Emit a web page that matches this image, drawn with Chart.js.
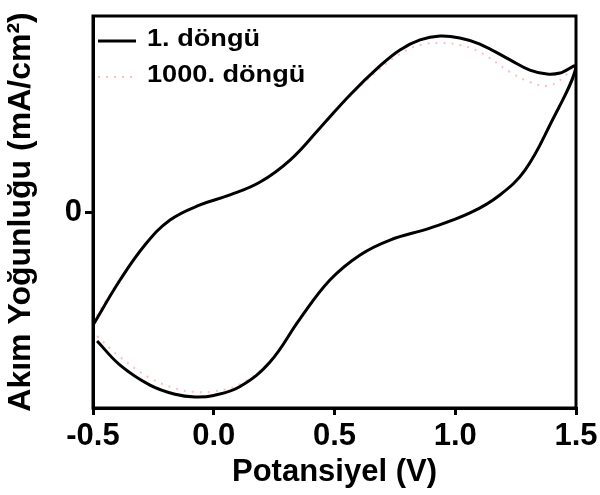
<!DOCTYPE html>
<html>
<head>
<meta charset="utf-8">
<script src="https://cdn.jsdelivr.net/npm/chart.js@4.4.1/dist/chart.umd.min.js"></script>
<style>
    html, body { margin: 0; padding: 0; background: #fff; }
    #wrap { width: 600px; height: 495px; }
</style>
</head>
<body>
<div id="wrap"><canvas id="cvChart" width="600" height="495"></canvas></div>
<script>
// Data (potential in V, current density in arbitrary units, 0 = zero line)
const seriesNames = ['1. döngü', '1000. döngü'];
const xTicks = [-0.5, 0.0, 0.5, 1.0, 1.5];
const yTicks = [0];

// 1st cycle: forward scan then reverse scan
const potential1 = [-0.483, -0.388, -0.264, -0.160, -0.078, 0.0, 0.109, 0.233, 0.357, 0.481, 0.606, 0.730, 0.895, 1.061, 1.185, 1.289, 1.392, 1.5,
    1.434, 1.380, 1.309, 1.227, 1.102, 1.019, 0.937, 0.854, 0.771, 0.688, 0.564, 0.440, 0.316, 0.192, 0.067, -0.057, -0.181, -0.285, -0.388, -0.5];
const current1 = [-0.658, -0.781, -0.883, -0.930, -0.944, -0.936, -0.890, -0.765, -0.545, -0.347, -0.219, -0.143, -0.082, -0.005, 0.087, 0.214, 0.444, 0.740,
    0.709, 0.704, 0.724, 0.776, 0.857, 0.888, 0.898, 0.878, 0.827, 0.745, 0.597, 0.429, 0.265, 0.153, 0.087, 0.036, -0.041, -0.168, -0.347, -0.577];

// 1000th cycle
const potential1000 = [-0.483, -0.388, -0.264, -0.160, -0.078, 0.0, 0.109, 0.233, 0.357, 0.481, 0.606, 0.730, 0.895, 1.061, 1.185, 1.289, 1.392, 1.5,
    1.434, 1.380, 1.309, 1.227, 1.102, 1.019, 0.937, 0.854, 0.771, 0.688, 0.564, 0.440, 0.316, 0.192, 0.067, -0.057, -0.181, -0.285, -0.388, -0.5];
const current1000 = [-0.633, -0.740, -0.847, -0.900, -0.918, -0.915, -0.878, -0.760, -0.545, -0.347, -0.219, -0.143, -0.082, -0.005, 0.087, 0.214, 0.444, 0.740,
    0.673, 0.643, 0.663, 0.714, 0.816, 0.852, 0.862, 0.852, 0.806, 0.730, 0.590, 0.425, 0.262, 0.150, 0.085, 0.034, -0.043, -0.170, -0.340, -0.560];

const FONT = '"Liberation Sans", Arial, sans-serif';

function toPoints(xs, ys) {
    return xs.map((x, i) => ({ x: x, y: ys[i] }));
}

// Frame round the plot and the legend inside it
const framePlugin = {
    id: 'frame',
    afterDraw(chart) {
        const { ctx, chartArea: a } = chart;
        ctx.save();
        ctx.strokeStyle = '#000';
        ctx.lineWidth = 3;
        ctx.strokeRect(a.left, a.top, a.right - a.left, a.bottom - a.top);

        // legend
        const rows = [
            { label: seriesNames[0], color: '#000', dash: [], width: 3, y: 41 },
            { label: seriesNames[1], color: 'rgba(255,130,130,0.5)', dash: [2, 6], width: 2, y: 77 }
        ];
        rows.forEach(r => {
            ctx.beginPath();
            ctx.setLineDash(r.dash);
            ctx.strokeStyle = r.color;
            ctx.lineWidth = r.width;
            ctx.moveTo(a.left + 5, r.y);
            ctx.lineTo(a.left + 43, r.y);
            ctx.stroke();
            ctx.setLineDash([]);
            ctx.save();
            ctx.translate(a.left + 54, r.y - 1);
            ctx.scale(1.18, 1);
            ctx.fillStyle = '#000';
            ctx.font = 'bold 23px ' + FONT;
            ctx.textBaseline = 'middle';
            ctx.fillText(r.label, 0, 0);
            ctx.restore();
        });
        ctx.restore();
    }
};

const ctx = document.getElementById('cvChart').getContext('2d');
new Chart(ctx, {
    type: 'scatter',
    data: {
        datasets: [
            {
                label: seriesNames[0],
                data: toPoints(potential1, current1),
                showLine: true,
                borderColor: '#000',
                borderWidth: 3,
                pointRadius: 0,
                tension: 0.4,
                order: 0
            },
            {
                label: seriesNames[1],
                data: toPoints(potential1000, current1000),
                showLine: true,
                borderColor: 'rgba(255,130,130,0.5)',
                borderWidth: 2,
                borderDash: [2, 6],
                pointRadius: 0,
                tension: 0.4,
                order: 1
            }
        ]
    },
    options: {
        responsive: false,
        animation: false,
        layout: { padding: { top: 16, right: 24, left: 0, bottom: 0 } },
        plugins: {
            legend: { display: false },
            tooltip: { enabled: false }
        },
        scales: {
            x: {
                type: 'linear',
                min: -0.5,
                max: 1.5,
                afterBuildTicks: s => { s.ticks = xTicks.map(v => ({ value: v })); },
                afterFit: s => { s.height = 87; s.paddingLeft = 0; s.paddingRight = 0; },
                border: { display: true, color: '#000', width: 3 },
                grid: { drawOnChartArea: false, drawTicks: true, tickLength: 7, color: '#000', lineWidth: 3 },
                ticks: {
                    color: '#000',
                    padding: 3,
                    maxRotation: 0,
                    font: { family: FONT, size: 31, weight: 'bold' },
                    callback: v => v.toFixed(1)
                },
                title: {
                    display: true,
                    text: 'Potansiyel (V)',
                    color: '#000',
                    padding: { top: 0, bottom: 4 },
                    font: { family: FONT, size: 31, weight: 'bold' }
                }
            },
            y: {
                type: 'linear',
                min: -1,
                max: 1,
                afterBuildTicks: s => { s.ticks = yTicks.map(v => ({ value: v })); },
                afterFit: s => { s.width = 93; s.paddingTop = 0; s.paddingBottom = 0; },
                border: { display: true, color: '#000', width: 3 },
                grid: { drawOnChartArea: false, drawTicks: true, tickLength: 8, color: '#000', lineWidth: 3 },
                ticks: {
                    color: '#000',
                    padding: 3,
                    font: { family: FONT, size: 31, weight: 'bold' },
                    callback: v => v.toFixed(0)
                },
                title: {
                    display: true,
                    text: 'Akım Yoğunluğu (mA/cm²)',
                    color: '#000',
                    padding: { top: 2, bottom: 0 },
                    font: { family: FONT, size: 32, weight: 'bold' }
                }
            }
        }
    },
    plugins: [framePlugin]
});
</script>
</body>
</html>
